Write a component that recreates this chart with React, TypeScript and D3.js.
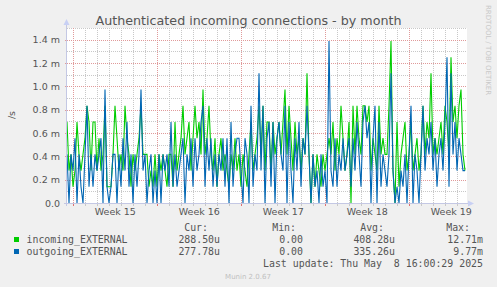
import React from "react";
import * as d3 from "d3";

const W = 497;
const H = 287;
// time window of the month graph (2 hours per pixel)
const START = Date.UTC(2025, 3, 5, 11, 20);
const END = START + 800 * 3600e3;
const SLOT_HOURS = 4;

// connections counted per 2 h slot (1 per 2 h = 0.1389 m/s)
const incoming = [
  5,2,3,1,2,5,3,2,3,4, 6,5,2,5,5,2,4,2,3,6, 1,1,1,3,6,4,2,3,2,6, 4,3,1,3,2,3,4,6,3,3,
  3,1,2,1,3,1,3,2,3,2, 1,3,3,1,5,2,3,4,6,3, 4,5,2,4,6,4,5,3,7,3, 4,6,3,2,4,1,3,4,2,3,
  2,1,3,2,4,2,3,1,3,2, 1,3,5,2,3,4,6,3,6,2, 5,5,2,5,3,4,5,3,5,7, 3,6,4,2,5,3,4,2,4,3,
  8,3,0,3,1,3,2,1,3,2, 3,4,3,5,2,4,3,6,4,2, 3,5,0,6,3,6,4,3,6,6, 5,6,2,4,3,2,6,3,4,3,
  3,6,10,2,0,5,1,3,4,5, 2,3,5,2,3,4,2,3,6,3, 5,4,8,3,4,3,4,5,3,6, 5,3,9,5,6,4,6,7,3,2,
];
const outgoing = [
  3,0,3,2,4,0,3,1,0,3, 6,1,3,1,3,2,3,4,0,7, 1,0,1,3,3,0,3,1,4,2, 5,1,3,0,3,1,3,7,2,3,
  0,2,3,0,2,0,3,0,3,2, 3,1,5,1,3,1,2,3,4,0, 3,2,4,1,4,2,3,5,6,1, 4,2,4,1,3,1,3,2,4,1,
  4,0,5,1,3,4,4,2,0,4, 3,0,6,1,3,2,8,2,6,0, 4,5,1,5,0,4,5,3,2,6, 0,5,2,0,4,2,5,1,4,3,
  6,3,0,3,1,2,0,3,1,2, 0,10,2,1,4,1,3,2,4,2, 3,4,1,4,2,5,3,1,5,6, 4,5,0,4,6,0,5,1,3,2,
  1,3,8,2,0,1,0,2,1,3, 0,3,6,0,3,2,0,3,6,2, 4,3,5,2,4,1,3,4,2,5, 9,1,8,3,5,2,4,3,2,2,
];

const yMajorTicks = [0, 0.2, 0.4, 0.6, 0.8, 1.0, 1.2, 1.4];
const yTickLabels = ["0.0", "0.2 m", "0.4 m", "0.6 m", "0.8 m", "1.0 m", "1.2 m", "1.4 m"];
const yMinorTicks = [0.1, 0.3, 0.5, 0.7, 0.9, 1.1, 1.3, 1.5];

const legendNames = ["incoming_EXTERNAL", "outgoing_EXTERNAL"];
const legendColors = ["#00cc00", "#0066b3"];
const legendCur = ["288.50u", "277.78u"];
const legendMin = ["0.00", "0.00"];
const legendAvg = ["408.28u", "335.26u"];
const legendMax = ["12.71m", "9.77m"];
const legendHeaders = ["Cur:", "Min:", "Avg:", "Max:"];

const L = 67, R = 467, T = 28, B = 203;

export default function App() {
  const x = d3.scaleUtc().domain([START, END]).range([L, R]);
  const y = d3.scaleLinear().domain([0, 1.5]).range([B, T]);
  const crisp = (v: number) => Math.round(v) + 0.5;

  const toRate = (c: number) => c / 7.2; // per-second rate in milli units
  const series = [incoming, outgoing].map((arr) =>
    arr.map((c, i) => ({ t: START + i * SLOT_HOURS * 3600e3, v: toRate(c) }))
  );
  const line = d3
    .line<{ t: number; v: number }>()
    .x((d) => x(d.t))
    .y((d) => y(d.v));

  const days = d3.utcDay.range(new Date(START), new Date(END));
  const weeks = d3.utcSunday.range(new Date(START), new Date(END));
  const weekFmt = d3.utcFormat("%V");

  const sans = "'DejaVu Sans', sans-serif";
  const mono = "'DejaVu Sans Mono', monospace";

  const colHeaderX = [208, 296, 384, 470];
  const colValX = [220, 303, 395, 483];

  return (
    <div style={{ position: "fixed", left: 0, top: 0 }}>
      <svg width={W} height={H} style={{ display: "block" }}>
        <rect x={0} y={0} width={W} height={H} fill="#f0f0f0" />
        <rect x={L} y={T} width={R - L} height={B - T} fill="#ffffff" />

        {/* minor horizontal grid */}
        {yMinorTicks.map((v) => (
          <line key={"hm" + v} x1={L} x2={R} y1={crisp(y(v))} y2={crisp(y(v))}
            stroke="#c8c8c8" strokeDasharray="1,1" />
        ))}
        {/* minor vertical grid (days) */}
        {days.map((d) => (
          <g key={"vd" + +d}>
            <line x1={crisp(x(d))} x2={crisp(x(d))} y1={T} y2={B}
              stroke="#c8c8c8" strokeDasharray="1,1" />
            <line x1={crisp(x(d))} x2={crisp(x(d))} y1={B} y2={B + 3} stroke="#c8c8c8" />
          </g>
        ))}
        {/* major horizontal grid */}
        {yMajorTicks.slice(1).map((v) => (
          <line key={"hM" + v} x1={L - 2} x2={R} y1={crisp(y(v))} y2={crisp(y(v))}
            stroke="#e09a9a" strokeDasharray="1,1" />
        ))}
        {/* major vertical grid (weeks) */}
        {weeks.map((d) => (
          <g key={"vw" + +d}>
            <line x1={crisp(x(d))} x2={crisp(x(d))} y1={T} y2={B}
              stroke="#e09a9a" strokeDasharray="1,1" />
            <line x1={crisp(x(d))} x2={crisp(x(d))} y1={B} y2={B + 3} stroke="#e07070" />
          </g>
        ))}

        {/* data lines */}
        <path d={line(series[0]) || ""} fill="none" stroke={legendColors[0]} strokeWidth={1.1} />
        <path d={line(series[1]) || ""} fill="none" stroke={legendColors[1]} strokeWidth={1.1} />

        {/* axes */}
        <line x1={L - 0.5} x2={L - 0.5} y1={B + 3} y2={T - 4} stroke="#c4c8e4" />
        <line x1={L - 3} x2={R + 2} y1={B + 0.5} y2={B + 0.5} stroke="#c4c8e4" />
        <path d={`M${L - 3.5},${T - 3} L${L - 0.5},${T - 9} L${L + 2.5},${T - 3} Z`} fill="#c8d0f4" />
        <path d={`M${R + 1},${B - 2.5} L${R + 7},${B + 0.5} L${R + 1},${B + 3.5} Z`} fill="#c8d0f4" />

        {/* y tick labels */}
        {yMajorTicks.map((v, i) => (
          <text key={"yl" + v} x={60} y={y(v) + 3.5} textAnchor="end" fontFamily={sans}
            fontSize={9.5} fill="#555">{yTickLabels[i]}</text>
        ))}
        {/* x labels */}
        {weeks.map((d) => {
          const mid = new Date(+d + 3.5 * 86400e3);
          return (
            <text key={"xl" + +d} x={x(mid)} y={215} textAnchor="middle" fontFamily={sans}
              fontSize={9.5} fill="#555">{"Week " + weekFmt(mid)}</text>
          );
        })}

        {/* title */}
        <text x={248.5} y={24.5} textAnchor="middle" fontFamily={sans} fontSize={12.7} fill="#555">
          Authenticated incoming connections - by month
        </text>
        <text transform="translate(15,115) rotate(-90)" textAnchor="middle" fontFamily={sans}
          fontSize={9.5} fill="#555">/s</text>
        <text transform="translate(486,5) rotate(90)" textAnchor="start" fontFamily={sans}
          fontSize={7} fill="#c8c8c8">RRDTOOL / TOBI OETIKER</text>

        {/* legend */}
        {legendHeaders.map((h, i) => (
          <text key={"lh" + h} x={colHeaderX[i]} y={231} textAnchor="end" fontFamily={mono}
            fontSize={9.9} fill="#555">{h}</text>
        ))}
        {legendNames.map((n, i) => {
          const by = 243 + i * 12;
          const vals = [legendCur[i], legendMin[i], legendAvg[i], legendMax[i]];
          return (
            <g key={n}>
              <rect x={14} y={by - 6} width={5} height={5} fill={legendColors[i]} />
              <text x={26.5} y={by} fontFamily={mono} fontSize={9.9} fill="#555">{n}</text>
              {vals.map((v, j) => (
                <text key={j} x={colValX[j]} y={by} textAnchor="end" fontFamily={mono}
                  fontSize={9.9} fill="#555">{v}</text>
              ))}
            </g>
          );
        })}
        <text x={483} y={266.5} textAnchor="end" fontFamily={mono} fontSize={9.9} fill="#555"
          style={{ whiteSpace: "pre" }}>{"Last update: Thu May  8 16:00:29 2025"}</text>
        <text x={248} y={278.5} textAnchor="middle" fontFamily={sans} fontSize={7} fill="#c0c0c0">
          Munin 2.0.67
        </text>
      </svg>
    </div>
  );
}
